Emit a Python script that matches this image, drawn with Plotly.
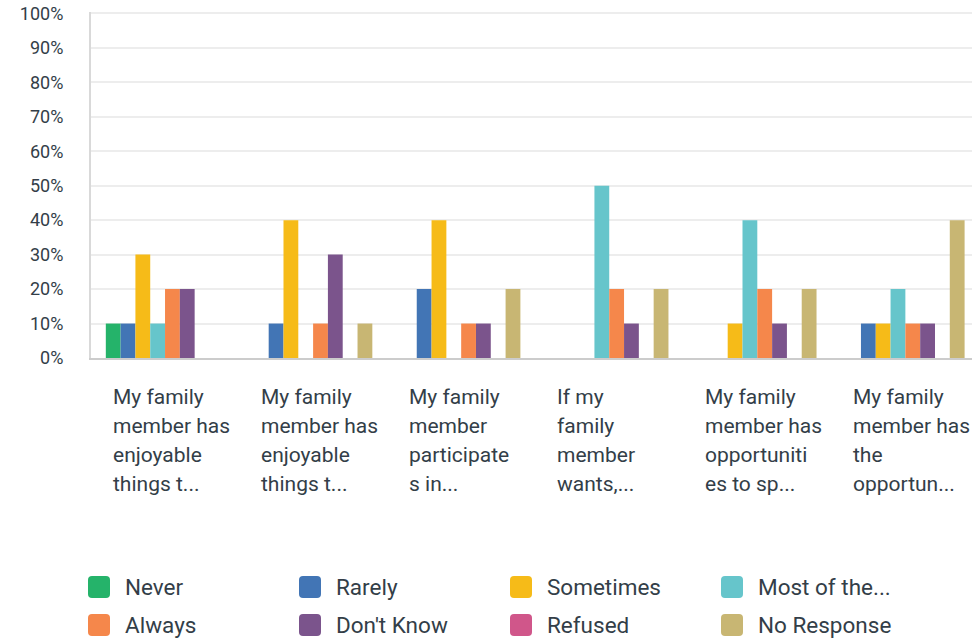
import plotly.graph_objects as go

categories = [
    "My family\nmember has\nenjoyable\nthings t...",
    "My family\nmember has\nenjoyable\nthings t...",
    "My family\nmember\nparticipate\ns in...",
    "If my\nfamily\nmember\nwants,...",
    "My family\nmember has\nopportuniti\nes to sp...",
    "My family\nmember has\nthe\nopportun...",
]
series_names = ["Never", "Rarely", "Sometimes", "Most of the...", "Always",
                "Don't Know", "Refused", "No Response"]
series_colors = ["#25b36a", "#4275b5", "#f6bb18", "#66c5cb", "#f5874b",
                 "#7b548c", "#d0568a", "#c8b673"]
never = [10, 0, 0, 0, 0, 0]
rarely = [10, 10, 20, 0, 0, 10]
sometimes = [30, 40, 40, 0, 10, 10]
most_of_the = [10, 0, 0, 50, 40, 20]
always = [20, 10, 10, 20, 20, 10]
dont_know = [20, 30, 10, 10, 10, 10]
refused = [0, 0, 0, 0, 0, 0]
no_response = [0, 10, 20, 20, 20, 40]
series_values = [never, rarely, sometimes, most_of_the, always, dont_know, refused, no_response]
y_ticks = [0, 10, 20, 30, 40, 50, 60, 70, 80, 90, 100]
y_tick_labels = [f"{v}%" for v in y_ticks]

FONT = "Roboto"
TXT = "#333e48"
xs = list(range(len(categories)))

fig = go.Figure()
for name, color, vals in zip(series_names, series_colors, series_values):
    fig.add_trace(go.Bar(x=xs, y=vals, name=name, marker_color=color,
                         marker_line_width=0, showlegend=False))

annotations = []
for i, lab in enumerate(categories):
    for k, line in enumerate(lab.split("\n")):
        annotations.append(dict(x=i, y=0, xref="x", yref="paper", text=line,
                                showarrow=False, xanchor="left", yanchor="middle",
                                xshift=-54, yshift=-39 - 29 * k,
                                font=dict(family=FONT, size=21, color=TXT)))

shapes = []
for j, (name, color) in enumerate(zip(series_names, series_colors)):
    col, row = j % 4, j // 4
    x0 = -3 + 211 * col
    x1 = x0 + 22
    yc = -229 - 38 * row
    r = 4
    ya, yb = yc - 11, yc + 11
    path = (f"M{x0+r},{ya} L{x1-r},{ya} Q{x1},{ya} {x1},{ya+r} L{x1},{yb-r} "
            f"Q{x1},{yb} {x1-r},{yb} L{x0+r},{yb} Q{x0},{yb} {x0},{yb-r} "
            f"L{x0},{ya+r} Q{x0},{ya} {x0+r},{ya} Z")
    shapes.append(dict(type="path", xref="paper", yref="paper", xsizemode="pixel",
                       ysizemode="pixel", xanchor=0, yanchor=0, path=path,
                       fillcolor=color, line_width=0, layer="above"))
    annotations.append(dict(x=0, y=0, xref="paper", yref="paper", text=name,
                            showarrow=False, xanchor="left", yanchor="middle",
                            xshift=x1 + 13, yshift=yc,
                            font=dict(family=FONT, size=22.5, color=TXT)))

fig.update_layout(
    width=972, height=642,
    margin=dict(l=91, r=0, t=12, b=284, autoexpand=False),
    paper_bgcolor="white", plot_bgcolor="white",
    barmode="group", bargap=0.2, bargroupgap=0,
    showlegend=False,
    annotations=annotations, shapes=shapes,
    font=dict(family=FONT, color=TXT),
)
fig.update_xaxes(range=[-0.5, 5.45], showticklabels=False, showgrid=False,
                 showline=True, linecolor="#cccccc", linewidth=2, ticks="",
                 zeroline=False, fixedrange=True)
fig.update_yaxes(range=[0, 100.4], tickvals=y_ticks, ticktext=y_tick_labels,
                 showgrid=True, gridcolor="#ededed", gridwidth=1.5,
                 showline=True, linecolor="#d9d9d9", linewidth=2, ticks="",
                 zeroline=False, ticklabelstandoff=22,
                 tickfont=dict(family=FONT, size=18, color=TXT))

fig.write_html("out.html", config={"displayModeBar": False},
               post_script="document.body.style.margin='0';document.body.style.overflow='hidden';")
